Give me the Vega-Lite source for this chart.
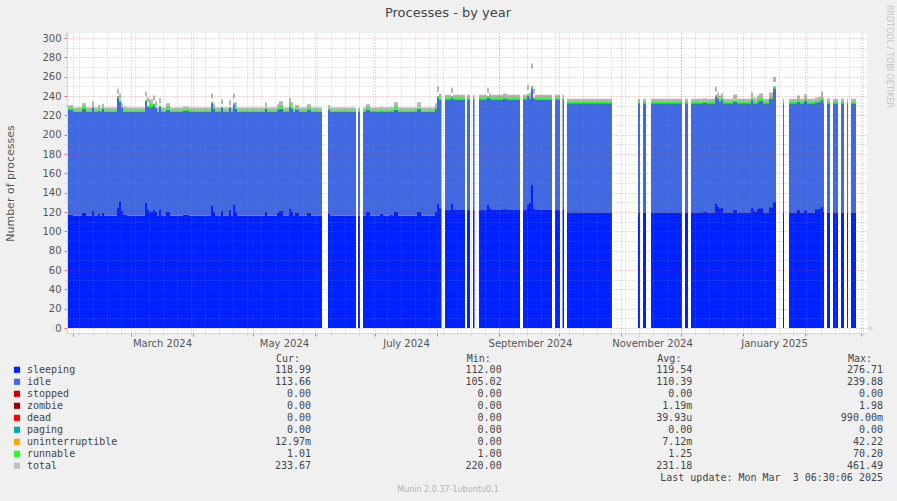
{
  "$schema": "https://vega.github.io/schema/vega-lite/v6.json",
  "width": 800,
  "height": 300,
  "autosize": {"type": "none"},
  "padding": {"left": 67, "top": 33, "right": 30, "bottom": 168},
  "background": "#f0f0f0",
  "config": {
    "view": {"stroke": null, "fill": "#ffffff"},
    "axis": {"labelFont": "DejaVu Sans", "titleFont": "DejaVu Sans", "labelColor": "#555555", "titleColor": "#555555"}
  },
  "datasets": {
    "ts": [
      {"start":"2024-01-29T00:00","end":"2024-02-01T00:00","sleeping":117,"idle":108.5,"runnable":2,"total":228},
      {"start":"2024-02-01T00:00","end":"2024-02-05T12:00","sleeping":116.5,"idle":107,"runnable":1.5,"total":225.6},
      {"start":"2024-02-05T12:00","end":"2024-02-07T12:00","sleeping":119,"idle":107.5,"runnable":3,"total":230},
      {"start":"2024-02-07T12:00","end":"2024-02-10T12:00","sleeping":116.5,"idle":107,"runnable":1.5,"total":225.6},
      {"start":"2024-02-10T12:00","end":"2024-02-11T12:00","sleeping":121,"idle":106.5,"runnable":1.5,"total":232},
      {"start":"2024-02-11T12:00","end":"2024-02-13T12:00","sleeping":116.5,"idle":107,"runnable":1.5,"total":225.6},
      {"start":"2024-02-13T12:00","end":"2024-02-14T12:00","sleeping":118,"idle":107,"runnable":2,"total":228},
      {"start":"2024-02-14T12:00","end":"2024-02-15T12:00","sleeping":116.5,"idle":107,"runnable":1.5,"total":225.6},
      {"start":"2024-02-15T12:00","end":"2024-02-16T12:00","sleeping":119,"idle":107.5,"runnable":1.5,"total":229.5},
      {"start":"2024-02-16T12:00","end":"2024-02-23T00:00","sleeping":116.5,"idle":107,"runnable":1.5,"total":225.6},
      {"start":"2024-02-23T00:00","end":"2024-02-24T00:00","sleeping":125,"idle":113,"runnable":2,"total":245},
      {"start":"2024-02-24T00:00","end":"2024-02-25T00:00","sleeping":132,"idle":102,"runnable":2,"total":240},
      {"start":"2024-02-25T00:00","end":"2024-02-26T00:00","sleeping":121,"idle":106.5,"runnable":1.5,"total":230},
      {"start":"2024-02-26T00:00","end":"2024-02-28T00:00","sleeping":117,"idle":106.5,"runnable":2.5,"total":226.5},
      {"start":"2024-02-28T00:00","end":"2024-03-08T00:00","sleeping":116.5,"idle":107,"runnable":1.5,"total":225.6},
      {"start":"2024-03-08T00:00","end":"2024-03-09T00:00","sleeping":130,"idle":104.5,"runnable":1.5,"total":242},
      {"start":"2024-03-09T00:00","end":"2024-03-10T00:00","sleeping":122,"idle":106.5,"runnable":1.5,"total":236},
      {"start":"2024-03-10T00:00","end":"2024-03-12T00:00","sleeping":120,"idle":108.5,"runnable":3.5,"total":234},
      {"start":"2024-03-12T00:00","end":"2024-03-13T00:00","sleeping":122,"idle":108.5,"runnable":1.5,"total":238},
      {"start":"2024-03-13T00:00","end":"2024-03-14T00:00","sleeping":120,"idle":107.5,"runnable":1.5,"total":232},
      {"start":"2024-03-14T00:00","end":"2024-03-15T00:00","sleeping":116.5,"idle":107,"runnable":1.5,"total":225.6},
      {"start":"2024-03-15T00:00","end":"2024-03-16T00:00","sleeping":122,"idle":106.5,"runnable":1.5,"total":235},
      {"start":"2024-03-16T00:00","end":"2024-03-18T12:00","sleeping":116.5,"idle":107,"runnable":1.5,"total":225.6},
      {"start":"2024-03-18T12:00","end":"2024-03-20T12:00","sleeping":120,"idle":106,"runnable":3,"total":230},
      {"start":"2024-03-20T12:00","end":"2024-03-27T00:00","sleeping":116.5,"idle":107,"runnable":1.5,"total":225.6},
      {"start":"2024-03-27T00:00","end":"2024-03-30T00:00","sleeping":117.5,"idle":107,"runnable":1.5,"total":226.5},
      {"start":"2024-03-30T00:00","end":"2024-04-10T00:00","sleeping":116.5,"idle":107,"runnable":1.5,"total":225.6},
      {"start":"2024-04-10T00:00","end":"2024-04-11T00:00","sleeping":127,"idle":105.5,"runnable":1.5,"total":240},
      {"start":"2024-04-11T00:00","end":"2024-04-12T00:00","sleeping":120,"idle":106.5,"runnable":1.5,"total":230},
      {"start":"2024-04-12T00:00","end":"2024-04-15T00:00","sleeping":116.5,"idle":107,"runnable":1.5,"total":225.6},
      {"start":"2024-04-15T00:00","end":"2024-04-16T00:00","sleeping":121,"idle":106.5,"runnable":1.5,"total":234},
      {"start":"2024-04-16T00:00","end":"2024-04-19T00:00","sleeping":116.5,"idle":107,"runnable":1.5,"total":225.6},
      {"start":"2024-04-19T00:00","end":"2024-04-20T00:00","sleeping":122,"idle":105.5,"runnable":1.5,"total":233},
      {"start":"2024-04-20T00:00","end":"2024-04-21T00:00","sleeping":116.5,"idle":107,"runnable":1.5,"total":225.6},
      {"start":"2024-04-21T00:00","end":"2024-04-22T00:00","sleeping":128,"idle":103.5,"runnable":1.5,"total":240},
      {"start":"2024-04-22T00:00","end":"2024-04-23T00:00","sleeping":120,"idle":106.5,"runnable":1.5,"total":231},
      {"start":"2024-04-23T00:00","end":"2024-05-07T00:00","sleeping":116.5,"idle":107,"runnable":1.5,"total":225.6},
      {"start":"2024-05-07T00:00","end":"2024-05-08T00:00","sleeping":120,"idle":106.5,"runnable":1.5,"total":231},
      {"start":"2024-05-08T00:00","end":"2024-05-13T00:00","sleeping":116.5,"idle":107,"runnable":1.5,"total":225.6},
      {"start":"2024-05-13T00:00","end":"2024-05-14T00:00","sleeping":119,"idle":107,"runnable":2,"total":229},
      {"start":"2024-05-14T00:00","end":"2024-05-16T00:00","sleeping":121,"idle":106,"runnable":3,"total":232},
      {"start":"2024-05-16T00:00","end":"2024-05-19T00:00","sleeping":116.5,"idle":107,"runnable":1.5,"total":225.6},
      {"start":"2024-05-19T00:00","end":"2024-05-20T00:00","sleeping":124,"idle":105,"runnable":4,"total":235},
      {"start":"2024-05-20T00:00","end":"2024-05-21T00:00","sleeping":120,"idle":106.5,"runnable":1.5,"total":231},
      {"start":"2024-05-21T00:00","end":"2024-05-22T00:00","sleeping":116.5,"idle":107,"runnable":1.5,"total":225.6},
      {"start":"2024-05-22T00:00","end":"2024-05-24T00:00","sleeping":119,"idle":106.5,"runnable":1.5,"total":228},
      {"start":"2024-05-24T00:00","end":"2024-05-28T00:00","sleeping":116.5,"idle":107,"runnable":1.5,"total":225.6},
      {"start":"2024-05-28T00:00","end":"2024-05-30T00:00","sleeping":119,"idle":106.5,"runnable":2.5,"total":229},
      {"start":"2024-05-30T00:00","end":"2024-06-04T12:00","sleeping":116.5,"idle":107,"runnable":1.5,"total":225.6},
      {"start":"2024-06-07T12:00","end":"2024-06-08T12:00","sleeping":118,"idle":107.5,"runnable":1.5,"total":228},
      {"start":"2024-06-08T12:00","end":"2024-06-21T12:00","sleeping":116.5,"idle":107,"runnable":1.5,"total":225.6},
      {"start":"2024-06-22T12:00","end":"2024-06-23T12:00","sleeping":116.5,"idle":107,"runnable":1.5,"total":225.6},
      {"start":"2024-06-25T00:00","end":"2024-06-26T12:00","sleeping":116.5,"idle":107,"runnable":1.5,"total":225.6},
      {"start":"2024-06-26T12:00","end":"2024-06-28T12:00","sleeping":120,"idle":106,"runnable":2.5,"total":229},
      {"start":"2024-06-28T12:00","end":"2024-07-03T12:00","sleeping":116.5,"idle":107,"runnable":1.5,"total":225.6},
      {"start":"2024-07-03T12:00","end":"2024-07-05T00:00","sleeping":118,"idle":106,"runnable":1.5,"total":226},
      {"start":"2024-07-05T00:00","end":"2024-07-08T12:00","sleeping":116.5,"idle":107,"runnable":1.5,"total":225.6},
      {"start":"2024-07-08T12:00","end":"2024-07-10T00:00","sleeping":117.5,"idle":106.5,"runnable":1.5,"total":226},
      {"start":"2024-07-10T00:00","end":"2024-07-10T12:00","sleeping":116.5,"idle":107,"runnable":1.5,"total":225.6},
      {"start":"2024-07-10T12:00","end":"2024-07-12T12:00","sleeping":120,"idle":106,"runnable":3,"total":231},
      {"start":"2024-07-12T12:00","end":"2024-07-22T00:00","sleeping":116.5,"idle":107,"runnable":1.5,"total":225.6},
      {"start":"2024-07-22T00:00","end":"2024-07-24T00:00","sleeping":120,"idle":106.5,"runnable":1.5,"total":231},
      {"start":"2024-07-24T00:00","end":"2024-07-31T00:00","sleeping":116.5,"idle":107,"runnable":1.5,"total":225.6},
      {"start":"2024-07-31T00:00","end":"2024-08-01T00:00","sleeping":120,"idle":106.5,"runnable":1.5,"total":230},
      {"start":"2024-08-01T00:00","end":"2024-08-02T00:00","sleeping":129,"idle":109,"runnable":2,"total":247},
      {"start":"2024-08-02T00:00","end":"2024-08-03T06:00","sleeping":124,"idle":112,"runnable":2,"total":240},
      {"start":"2024-08-05T00:00","end":"2024-08-08T00:00","sleeping":122,"idle":114.5,"runnable":1.6,"total":238.7},
      {"start":"2024-08-08T00:00","end":"2024-08-09T00:00","sleeping":129,"idle":109.4,"runnable":1.6,"total":246},
      {"start":"2024-08-09T00:00","end":"2024-08-15T00:00","sleeping":122,"idle":114.5,"runnable":1.6,"total":238.7},
      {"start":"2024-08-16T00:00","end":"2024-08-17T12:00","sleeping":122,"idle":114.5,"runnable":1.6,"total":238.7},
      {"start":"2024-08-19T00:00","end":"2024-08-19T18:00","sleeping":122,"idle":114.5,"runnable":1.6,"total":238.7},
      {"start":"2024-08-22T00:00","end":"2024-08-26T00:00","sleeping":122,"idle":114.5,"runnable":1.6,"total":238.7},
      {"start":"2024-08-26T00:00","end":"2024-08-27T00:00","sleeping":128,"idle":110.4,"runnable":1.6,"total":246},
      {"start":"2024-08-27T00:00","end":"2024-08-28T00:00","sleeping":124,"idle":113.4,"runnable":1.6,"total":240},
      {"start":"2024-08-28T00:00","end":"2024-09-03T00:00","sleeping":122,"idle":114.5,"runnable":1.6,"total":238.7},
      {"start":"2024-09-03T00:00","end":"2024-09-05T00:00","sleeping":123,"idle":114.4,"runnable":1.6,"total":240},
      {"start":"2024-09-05T00:00","end":"2024-09-11T12:00","sleeping":122,"idle":114.5,"runnable":1.6,"total":238.7},
      {"start":"2024-09-13T00:00","end":"2024-09-15T00:00","sleeping":122,"idle":114.5,"runnable":1.6,"total":238.7},
      {"start":"2024-09-15T00:00","end":"2024-09-16T00:00","sleeping":128,"idle":112.4,"runnable":1.6,"total":249},
      {"start":"2024-09-16T00:00","end":"2024-09-17T00:00","sleeping":130,"idle":107.4,"runnable":1.6,"total":241},
      {"start":"2024-09-17T00:00","end":"2024-09-18T00:00","sleeping":148,"idle":100,"runnable":2,"total":271},
      {"start":"2024-09-18T00:00","end":"2024-09-19T00:00","sleeping":124,"idle":113.4,"runnable":1.6,"total":245},
      {"start":"2024-09-19T00:00","end":"2024-09-27T12:00","sleeping":122,"idle":114.5,"runnable":1.6,"total":238.7},
      {"start":"2024-09-29T00:00","end":"2024-10-01T12:00","sleeping":122,"idle":114.5,"runnable":1.6,"total":238.7},
      {"start":"2024-10-02T18:00","end":"2024-10-03T12:00","sleeping":122,"idle":114.5,"runnable":1.6,"total":238.7},
      {"start":"2024-10-05T00:00","end":"2024-10-27T12:00","sleeping":119,"idle":113.4,"runnable":1.6,"total":234.6},
      {"start":"2024-11-09T12:00","end":"2024-11-10T12:00","sleeping":119,"idle":113.4,"runnable":1.6,"total":234.6},
      {"start":"2024-11-12T00:00","end":"2024-11-13T12:00","sleeping":119,"idle":113.4,"runnable":1.6,"total":234.6},
      {"start":"2024-11-16T00:00","end":"2024-12-01T12:00","sleeping":119,"idle":113.4,"runnable":1.6,"total":234.6},
      {"start":"2024-12-03T00:00","end":"2024-12-04T12:00","sleeping":119,"idle":113.4,"runnable":1.6,"total":234.6},
      {"start":"2024-12-06T00:00","end":"2024-12-12T00:00","sleeping":119,"idle":113.4,"runnable":1.6,"total":234.6},
      {"start":"2024-12-12T00:00","end":"2024-12-14T00:00","sleeping":120,"idle":112.9,"runnable":1.6,"total":235},
      {"start":"2024-12-14T00:00","end":"2024-12-18T00:00","sleeping":119,"idle":113.4,"runnable":1.6,"total":234.6},
      {"start":"2024-12-18T00:00","end":"2024-12-19T00:00","sleeping":129,"idle":110.4,"runnable":1.6,"total":247},
      {"start":"2024-12-19T00:00","end":"2024-12-20T00:00","sleeping":126,"idle":111.4,"runnable":1.6,"total":241},
      {"start":"2024-12-20T00:00","end":"2024-12-21T00:00","sleeping":124,"idle":110.4,"runnable":1.6,"total":238},
      {"start":"2024-12-21T00:00","end":"2024-12-22T00:00","sleeping":125,"idle":111.4,"runnable":1.6,"total":240},
      {"start":"2024-12-22T00:00","end":"2024-12-27T00:00","sleeping":119,"idle":113.4,"runnable":1.6,"total":234.6},
      {"start":"2024-12-27T00:00","end":"2024-12-29T00:00","sleeping":122,"idle":112.4,"runnable":1.6,"total":239},
      {"start":"2024-12-29T00:00","end":"2025-01-05T00:00","sleeping":119,"idle":113.4,"runnable":1.6,"total":234.6},
      {"start":"2025-01-05T00:00","end":"2025-01-06T00:00","sleeping":125,"idle":111.4,"runnable":1.6,"total":241},
      {"start":"2025-01-06T00:00","end":"2025-01-07T00:00","sleeping":121,"idle":111.4,"runnable":1.6,"total":236},
      {"start":"2025-01-07T00:00","end":"2025-01-08T00:00","sleeping":120,"idle":111.9,"runnable":1.6,"total":235},
      {"start":"2025-01-08T00:00","end":"2025-01-09T00:00","sleeping":123,"idle":110.5,"runnable":3.5,"total":238},
      {"start":"2025-01-09T00:00","end":"2025-01-11T00:00","sleeping":124,"idle":111.5,"runnable":2.5,"total":240},
      {"start":"2025-01-11T00:00","end":"2025-01-14T00:00","sleeping":119,"idle":113.4,"runnable":1.6,"total":234.6},
      {"start":"2025-01-14T00:00","end":"2025-01-16T00:00","sleeping":125,"idle":112.4,"runnable":1.6,"total":241},
      {"start":"2025-01-16T00:00","end":"2025-01-17T12:00","sleeping":131,"idle":117,"runnable":2,"total":257},
      {"start":"2025-01-21T00:00","end":"2025-01-21T12:00","sleeping":119,"idle":113.4,"runnable":1.6,"total":234.6},
      {"start":"2025-01-24T00:00","end":"2025-01-28T00:00","sleeping":119,"idle":113.4,"runnable":1.6,"total":234.6},
      {"start":"2025-01-28T00:00","end":"2025-01-29T12:00","sleeping":122,"idle":112.4,"runnable":1.6,"total":238},
      {"start":"2025-01-29T12:00","end":"2025-01-31T12:00","sleeping":119,"idle":113.4,"runnable":1.6,"total":234.6},
      {"start":"2025-01-31T12:00","end":"2025-02-02T00:00","sleeping":122,"idle":113.4,"runnable":1.6,"total":239},
      {"start":"2025-02-02T00:00","end":"2025-02-06T00:00","sleeping":119,"idle":113.4,"runnable":1.6,"total":234.6},
      {"start":"2025-02-06T00:00","end":"2025-02-08T00:00","sleeping":123,"idle":110.4,"runnable":1.6,"total":236},
      {"start":"2025-02-08T00:00","end":"2025-02-09T00:00","sleeping":124,"idle":110.4,"runnable":1.6,"total":237},
      {"start":"2025-02-09T00:00","end":"2025-02-10T00:00","sleeping":126,"idle":110.5,"runnable":2.5,"total":242},
      {"start":"2025-02-10T00:00","end":"2025-02-10T12:00","sleeping":120,"idle":112.4,"runnable":1.6,"total":236},
      {"start":"2025-02-12T00:00","end":"2025-02-13T12:00","sleeping":119,"idle":113.4,"runnable":1.6,"total":235},
      {"start":"2025-02-15T00:00","end":"2025-02-17T12:00","sleeping":119,"idle":113.4,"runnable":1.6,"total":234.6},
      {"start":"2025-02-19T00:00","end":"2025-02-20T12:00","sleeping":119,"idle":113.4,"runnable":1.6,"total":234.6},
      {"start":"2025-02-22T00:00","end":"2025-02-22T12:00","sleeping":119,"idle":113.4,"runnable":1.6,"total":234.6},
      {"start":"2025-02-24T00:00","end":"2025-02-26T12:00","sleeping":119,"idle":113.4,"runnable":1.6,"total":234.6}
    ],
    "legend": [
      {"name":"sleeping","Cur":"118.99\u00a0","Min":"112.00\u00a0","Avg":"119.54\u00a0","Max":"276.71\u00a0"},
      {"name":"idle","Cur":"113.66\u00a0","Min":"105.02\u00a0","Avg":"110.39\u00a0","Max":"239.88\u00a0"},
      {"name":"stopped","Cur":"0.00\u00a0","Min":"0.00\u00a0","Avg":"0.00\u00a0","Max":"0.00\u00a0"},
      {"name":"zombie","Cur":"0.00\u00a0","Min":"0.00\u00a0","Avg":"1.19m","Max":"1.98\u00a0"},
      {"name":"dead","Cur":"0.00\u00a0","Min":"0.00\u00a0","Avg":"39.93u","Max":"990.00m"},
      {"name":"paging","Cur":"0.00\u00a0","Min":"0.00\u00a0","Avg":"0.00\u00a0","Max":"0.00\u00a0"},
      {"name":"uninterruptible","Cur":"12.97m","Min":"0.00\u00a0","Avg":"7.12m","Max":"42.22\u00a0"},
      {"name":"runnable","Cur":"1.01\u00a0","Min":"1.00\u00a0","Avg":"1.25\u00a0","Max":"70.20\u00a0"},
      {"name":"total","Cur":"233.67\u00a0","Min":"220.00\u00a0","Avg":"231.18\u00a0","Max":"461.49\u00a0"}
    ]
  },
  "layer": [
    {
      "data": {"name": "ts"},
      "layer": [
        {
          "mark": {"type": "bar", "color": "#b4b8b4"},
          "encoding": {
            "x": {"field": "start", "type": "temporal",
              "scale": {"domain": [{"year": 2024, "month": 1, "date": 29}, {"year": 2025, "month": 3, "date": 4}], "nice": false},
              "axis": {"orient": "bottom", "tickCount": {"interval": "week", "step": 1}, "grid": true, "gridColor": "#8c8c8c", "gridOpacity": 0.45, "gridDash": [1, 2], "ticks": true, "tickColor": "#c8c8c8", "tickSize": 2, "labels": false, "domain": false, "title": null, "zindex": 1}},
            "x2": {"field": "end"},
            "y": {"field": "total", "type": "quantitative", "stack": null,
              "scale": {"domain": [0, 300], "nice": false},
              "axis": {"orient": "left", "values": [10, 30, 50, 70, 90, 110, 130, 150, 170, 190, 210, 230, 250, 270, 290], "grid": true, "gridColor": "#8c8c8c", "gridOpacity": 0.45, "gridDash": [1, 2], "ticks": true, "tickColor": "#c8c8c8", "tickSize": 2, "labels": false, "domain": false, "title": null, "zindex": 1}}
          }
        },
        {
          "transform": [
            {"fold": ["sleeping", "idle", "runnable"], "as": ["series", "value"]},
            {"stack": "value", "groupby": ["start"], "sort": [{"field": "value", "order": "descending"}], "as": ["v0", "v1"]}
          ],
          "mark": {"type": "bar"},
          "encoding": {
            "x": {"field": "start", "type": "temporal",
              "scale": {"domain": [{"year": 2024, "month": 1, "date": 29}, {"year": 2025, "month": 3, "date": 4}], "nice": false},
              "axis": {"orient": "bottom", "tickCount": {"interval": "month", "step": 1}, "grid": true, "gridColor": "#d84040", "gridOpacity": 0.45, "gridDash": [1, 2], "ticks": true, "tickColor": "#e07070", "tickSize": 3, "labels": false, "domain": true, "domainColor": "#cfd6f8", "title": null, "zindex": 1}},
            "x2": {"field": "end"},
            "y": {"field": "v1", "type": "quantitative", "stack": null,
              "scale": {"domain": [0, 300], "nice": false},
              "axis": {"orient": "left", "values": [0, 20, 40, 60, 80, 100, 120, 140, 160, 180, 200, 220, 240, 260, 280, 300], "grid": true, "gridColor": "#d84040", "gridOpacity": 0.45, "gridDash": [1, 2], "ticks": true, "tickColor": "#e07070", "tickSize": 3, "labels": true, "labelFontSize": 10, "labelPadding": 3, "labelColor": "#555555", "domain": true, "domainColor": "#cfd6f8", "title": "Number of processes", "titleFontSize": 11, "titleFontWeight": "normal", "titleColor": "#555555", "titleX": -57, "titleY": 150, "titleAngle": -90, "titleAlign": "center", "titleBaseline": "middle", "zindex": 1}},
            "y2": {"field": "v0"},
            "color": {"field": "series", "type": "nominal", "scale": {"domain": ["sleeping", "idle", "runnable"], "range": ["#0022ff", "#4169e1", "#22ff22"]}, "legend": null}
          }
        },
        {
          "data": {"values": [{"arrow": "up"}]},
          "mark": {"type": "point", "shape": "triangle-up", "filled": true, "size": 30, "color": "#cfd6f8", "opacity": 1},
          "encoding": {
            "x": {"datum": {"year": 2024, "month": 1, "date": 29}, "type": "temporal",
              "scale": {"domain": [{"year": 2024, "month": 1, "date": 29}, {"year": 2025, "month": 3, "date": 4}], "nice": false},
              "axis": {"orient": "bottom", "values": [{"year": 2024, "month": 3, "date": 16, "hours": 12}, {"year": 2024, "month": 5, "date": 16, "hours": 12}, {"year": 2024, "month": 7, "date": 16, "hours": 12}, {"year": 2024, "month": 9, "date": 16, "hours": 12}, {"year": 2024, "month": 11, "date": 16, "hours": 12}, {"year": 2025, "month": 1, "date": 16, "hours": 12}], "format": "%B %Y", "formatType": "time", "grid": false, "ticks": false, "tickSize": 0, "labels": true, "labelFontSize": 10, "labelPadding": 5, "labelColor": "#555555", "labelOverlap": false, "labelFlush": false, "domain": false, "title": null}},
            "y": {"datum": 304, "type": "quantitative", "scale": {"domain": [0, 300], "nice": false}, "axis": null}
          }
        },
        {
          "data": {"values": [{"arrow": "right"}]},
          "mark": {"type": "point", "shape": "triangle-right", "filled": true, "size": 30, "color": "#cfd6f8", "opacity": 1},
          "encoding": {
            "x": {"datum": {"year": 2025, "month": 3, "date": 6, "hours": 6}, "type": "temporal", "axis": null},
            "y": {"datum": 0, "type": "quantitative", "axis": null}
          }
        }
      ],
      "resolve": {"axis": {"x": "independent", "y": "independent"}}
    },
    {
      "layer": [
        {
          "data": {"name": "legend"},
          "mark": {"type": "square", "size": 38, "filled": true, "opacity": 1},
          "encoding": {
            "x": {"value": -50},
            "y": {"field": "name", "type": "nominal", "axis": null,
              "scale": {"type": "point", "domain": ["header", "sleeping", "idle", "stopped", "zombie", "dead", "paging", "uninterruptible", "runnable", "total", "update", "munin"], "range": [324.8, 456.8], "padding": 0}},
            "color": {"field": "name", "type": "nominal", "legend": null,
              "scale": {"domain": ["sleeping", "idle", "stopped", "zombie", "dead", "paging", "uninterruptible", "runnable", "total"], "range": ["#0022ff", "#4169e1", "#cc0000", "#990000", "#ff0000", "#00aaaa", "#ffa500", "#22ff22", "#c0c0c0"]}}
          }
        },
        {
          "data": {"name": "legend"},
          "mark": {"type": "text", "align": "left", "baseline": "middle", "font": "DejaVu Sans Mono", "fontSize": 10, "color": "#444444"},
          "encoding": {
            "x": {"value": -40},
            "y": {"field": "name", "type": "nominal", "axis": null},
            "text": {"field": "name"}
          }
        },
        {
          "data": {"name": "legend"},
          "transform": [{"fold": ["Cur", "Min", "Avg", "Max"], "as": ["stat", "val"]}],
          "mark": {"type": "text", "align": "right", "baseline": "middle", "font": "DejaVu Sans Mono", "fontSize": 10, "color": "#444444"},
          "encoding": {
            "x": {"field": "stat", "type": "nominal", "axis": null,
              "scale": {"type": "point", "domain": ["Cur", "Min", "Avg", "Max"], "range": [244, 816], "padding": 0}},
            "y": {"field": "name", "type": "nominal", "axis": null},
            "text": {"field": "val"}
          }
        },
        {
          "data": {"values": [{"stat": "Cur", "label": "Cur:"}, {"stat": "Min", "label": "Min:"}, {"stat": "Avg", "label": "Avg:"}, {"stat": "Max", "label": "Max:"}]},
          "mark": {"type": "text", "align": "left", "baseline": "middle", "dx": -35, "dy": 1, "font": "DejaVu Sans Mono", "fontSize": 10, "color": "#444444"},
          "encoding": {
            "x": {"field": "stat", "type": "nominal", "axis": null},
            "y": {"datum": "header", "type": "nominal", "axis": null},
            "text": {"field": "label"}
          }
        },
        {
          "data": {"values": [{"label": "Last update: Mon Mar\u00a0\u00a03 06:30:06 2025"}]},
          "mark": {"type": "text", "align": "right", "baseline": "middle", "font": "DejaVu Sans Mono", "fontSize": 10, "color": "#444444"},
          "encoding": {
            "x": {"datum": "Max", "type": "nominal", "axis": null},
            "y": {"datum": "update", "type": "nominal", "axis": null},
            "text": {"field": "label"}
          }
        },
        {
          "data": {"values": [{"label": "Munin 2.0.37-1ubuntu0.1"}]},
          "mark": {"type": "text", "align": "center", "baseline": "middle", "font": "DejaVu Sans", "fontSize": 8, "color": "#b4b4b4"},
          "encoding": {
            "x": {"value": 381},
            "y": {"datum": "munin", "type": "nominal", "axis": null},
            "text": {"field": "label"}
          }
        },
        {
          "data": {"values": [{"label": "RRDTOOL / TOBI OETIKER"}]},
          "mark": {"type": "text", "align": "left", "baseline": "middle", "angle": 90, "font": "DejaVu Sans", "fontSize": 8, "color": "#c4c4c4"},
          "encoding": {
            "x": {"value": 822},
            "y": {"value": -28},
            "text": {"field": "label"}
          }
        },
        {
          "data": {"values": [{"label": "Processes - by year"}]},
          "mark": {"type": "text", "align": "center", "baseline": "middle", "font": "DejaVu Sans", "fontSize": 13, "color": "#444444"},
          "encoding": {
            "x": {"value": 381},
            "y": {"value": -20},
            "text": {"field": "label"}
          }
        }
      ]
    }
  ],
  "resolve": {"scale": {"x": "independent", "y": "independent", "color": "independent"}, "axis": {"x": "independent", "y": "independent"}}
}
